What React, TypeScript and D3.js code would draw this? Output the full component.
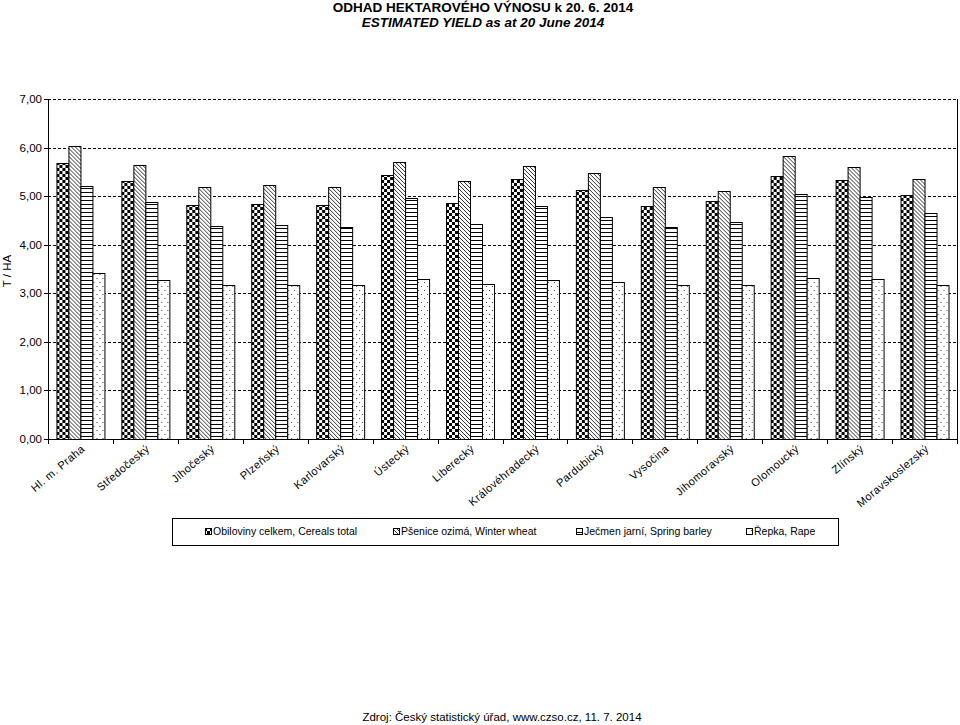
import React from "react";
import * as d3 from "d3";

const categories = [
  "Hl. m. Praha", "Středočeský", "Jihočeský", "Plzeňský", "Karlovarský", "Ústecký", "Liberecký",
  "Královéhradecký", "Pardubický", "Vysočina", "Jihomoravský", "Olomoucký", "Zlínský", "Moravskoslezský",
];
const seriesNames = [
  "Obiloviny celkem, Cereals total",
  "Pšenice ozimá, Winter wheat",
  "Ječmen jarní, Spring barley",
  "Řepka, Rape",
];
const cereals = [5.68, 5.31, 4.82, 4.84, 4.82, 5.44, 4.86, 5.35, 5.13, 4.80, 4.90, 5.41, 5.33, 5.02];
const wheat = [6.04, 5.64, 5.19, 5.23, 5.19, 5.71, 5.31, 5.63, 5.48, 5.19, 5.11, 5.82, 5.59, 5.35];
const barley = [5.21, 4.88, 4.39, 4.41, 4.36, 4.96, 4.43, 4.80, 4.57, 4.37, 4.47, 5.04, 4.98, 4.65];
const rape = [3.42, 3.27, 3.18, 3.18, 3.18, 3.30, 3.20, 3.28, 3.24, 3.18, 3.18, 3.32, 3.30, 3.18];
const yTicks = [0, 1, 2, 3, 4, 5, 6, 7];

const allSeries = [cereals, wheat, barley, rape];
const patternIds = ["pCheck", "pDiag", "pHoriz", "pDots"];
const FONT = "'Liberation Sans', Arial, sans-serif";

export default function App() {
  const left = 48, right = 957, top = 99, bottom = 439;
  const y = d3.scaleLinear().domain([0, 7]).range([bottom, top]);
  const x0 = d3.scaleBand<string>().domain(categories).range([left, right]).paddingInner(0.26).paddingOuter(0.13);
  const x1 = d3.scaleBand<number>().domain([0, 1, 2, 3]).range([0, x0.bandwidth()]);
  const step = x0.step();
  const fmt = (v: number) => v.toFixed(2).replace(".", ",");

  const legendX = [205, 393, 576, 746];

  return (
    <svg width={960} height={725} style={{ position: "absolute", left: 0, top: 0, background: "#fff" }} fontFamily={FONT}>
      <defs>
        <pattern id="pCheck" width={6} height={6} patternUnits="userSpaceOnUse">
          <rect width={6} height={6} fill="#fff" />
          <rect x={0} y={0} width={3} height={3} fill="#000" />
          <rect x={3} y={3} width={3} height={3} fill="#000" />
        </pattern>
        <pattern id="pDiag" width={4} height={4} patternUnits="userSpaceOnUse">
          <rect width={4} height={4} fill="#fff" />
          <path d="M-1,-1 L5,5 M-1,3 L1,5 M3,-1 L5,1" stroke="#333" strokeWidth={1} />
        </pattern>
        <pattern id="pHoriz" width={4} height={4} patternUnits="userSpaceOnUse">
          <rect width={4} height={4} fill="#fff" />
          <rect x={0} y={0} width={4} height={1} fill="#000" />
        </pattern>
        <pattern id="pDots" width={6} height={8} patternUnits="userSpaceOnUse">
          <rect width={6} height={8} fill="#fff" />
          <rect x={1} y={2} width={1} height={1} fill="#444" />
          <rect x={4} y={6} width={1} height={1} fill="#444" />
        </pattern>
      </defs>

      {/* Title */}
      <text x={483} y={12} textAnchor="middle" fontSize={13.5} fontWeight="bold">ODHAD HEKTAROVÉHO VÝNOSU k 20. 6. 2014</text>
      <text x={483} y={27} textAnchor="middle" fontSize={13.5} fontWeight="bold" fontStyle="italic">ESTIMATED YIELD as at 20 June 2014</text>

      {/* Gridlines */}
      {yTicks.filter(t => t > 0).map(t => (
        <line key={t} x1={left} x2={right} y1={Math.round(y(t)) + 0.5} y2={Math.round(y(t)) + 0.5}
          stroke="#000" strokeDasharray="3,2" strokeWidth={1} />
      ))}
      {/* right border */}
      <line x1={right + 0.5} x2={right + 0.5} y1={top} y2={bottom} stroke="#000" />

      {/* Bars */}
      {categories.map((c, i) => (
        <g key={c} transform={`translate(${x0(c)},0)`}>
          {allSeries.map((s, k) => (
            <rect key={k} x={Math.round(x1(k)!) + 0.5} y={Math.round(y(s[i])) + 0.5}
              width={Math.round(x1.bandwidth())} height={Math.round(y(0)) - Math.round(y(s[i]))}
              fill={`url(#${patternIds[k]})`} stroke="#000" strokeWidth={1} />
          ))}
        </g>
      ))}

      {/* Y axis */}
      <line x1={left + 0.5} x2={left + 0.5} y1={top} y2={bottom} stroke="#000" />
      {yTicks.map(t => (
        <g key={t}>
          <line x1={left - 4} x2={left} y1={Math.round(y(t)) + 0.5} y2={Math.round(y(t)) + 0.5} stroke="#000" />
          <text x={left - 6} y={y(t) + 4} textAnchor="end" fontSize={11.5}>{fmt(t)}</text>
        </g>
      ))}
      <text transform={`translate(11,${(top + bottom) / 2 + 2}) rotate(-90)`} textAnchor="middle" fontSize={11.5}>T / HA</text>

      {/* X axis */}
      <line x1={left} x2={right} y1={Math.round(y(0)) + 0.5} y2={Math.round(y(0)) + 0.5} stroke="#000" />
      {d3.range(categories.length + 1).map(i => {
        const xx = Math.round(left + i * step) + 0.5;
        return <line key={i} x1={xx} x2={xx} y1={bottom} y2={bottom + 5} stroke="#000" />;
      })}
      {categories.map(c => {
        const cx = x0(c)! + x0.bandwidth() / 2;
        return (
          <text key={c} transform={`translate(${cx + 5},${bottom + 11}) rotate(-40)`} textAnchor="end" fontSize={11} letterSpacing={0.4}>{c}</text>
        );
      })}

      {/* Legend */}
      <rect x={172.5} y={518.5} width={666} height={27} fill="#fff" stroke="#000" />
      {seriesNames.map((n, k) => (
        <g key={n}>
          <rect x={legendX[k] + 0.5} y={528.5} width={6} height={6} fill={`url(#${patternIds[k]})`} stroke="#000" />
          <text x={legendX[k] + 8} y={535} fontSize={10.5}>{n}</text>
        </g>
      ))}

      {/* Footer */}
      <text x={502} y={721} textAnchor="middle" fontSize={11.5}>Zdroj: Český statistický úřad, www.czso.cz, 11. 7. 2014</text>
    </svg>
  );
}
